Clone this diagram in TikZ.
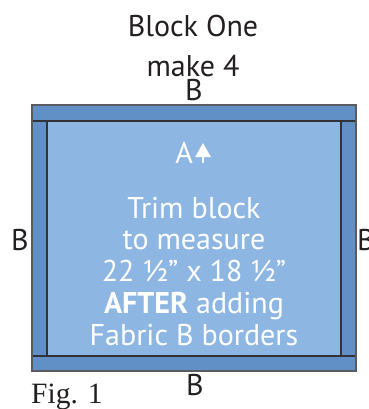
\documentclass[tikz,border=0pt]{standalone}
\usepackage{fontspec}
\setmainfont{PT Sans}
\newfontfamily\figfont{Liberation Serif}
\usetikzlibrary{arrows.meta,calc}
\definecolor{stripblue}{RGB}{97,144,199}
\definecolor{innerblue}{RGB}{141,182,226}
\definecolor{edgegray}{RGB}{50,50,55}
\definecolor{textdark}{RGB}{35,31,32}
\tikzset{
  lbl/.style={font=\fontsize{30}{33}\selectfont, text=textdark, inner sep=0pt, anchor=base},
  inlbl/.style={font=\fontsize{30}{33}\selectfont, text=white, inner sep=0pt, anchor=base},
  seam/.style={draw=edgegray, line width=1.3pt},
}
\begin{document}
\begin{tikzpicture}[x=1pt,y=-1pt]
\useasboundingbox (0,0) rectangle (368,409);
% quilt block
\coordinate (o1) at (32,105);
\coordinate (o2) at (356,371);
\coordinate (i1) at (47,121);
\coordinate (i2) at (341,356);
\fill[stripblue] (o1) rectangle (o2);
\fill[innerblue] (i1) rectangle (i2);
\draw[seam] (32,121) -- (356,121);
\draw[seam] (32,356) -- (356,356);
\draw[seam] (47,121) -- (47,356);
\draw[seam] (341,121) -- (341,356);
\draw[draw=edgegray!80, line width=1.6pt] (o1) rectangle (o2);
% titles
\node[lbl] (t1) at (193,37) {Block One};
\node[lbl] (t2) at (193,77) {make 4};
\node[lbl] (bt) at (194,100) {B};
\node[lbl] (bb) at (195,395) {B};
\node[lbl] (bl) at (20,250) {B};
\node[lbl, anchor=base west] (br) at (357,250) {B};
\node[font=\figfont\fontsize{29.5}{32}\selectfont, text=textdark, inner sep=0pt, anchor=base west] (fig) at (31,403) {Fig. 1};
% inside text
\node[inlbl, anchor=base east] (A) at (193,163) {A};
\coordinate (ar1) at (203,163);
\coordinate (ar2) at (203,143);
\draw[white, line width=2.6pt, -{Triangle[width=15pt,length=14pt]}] (ar1) -- (ar2);
\node[inlbl] (l1) at (194,218) {Trim block};
\node[inlbl] (l2) at (194,249) {to measure};
\node[inlbl] (l3) at (194,281) {22 ½” x 18 ½”};
\node[inlbl] (l4) at (194,313) {\textbf{AFTER} adding};
\node[inlbl] (l5) at (194,345) {Fabric B borders};
\end{tikzpicture}
\end{document}
